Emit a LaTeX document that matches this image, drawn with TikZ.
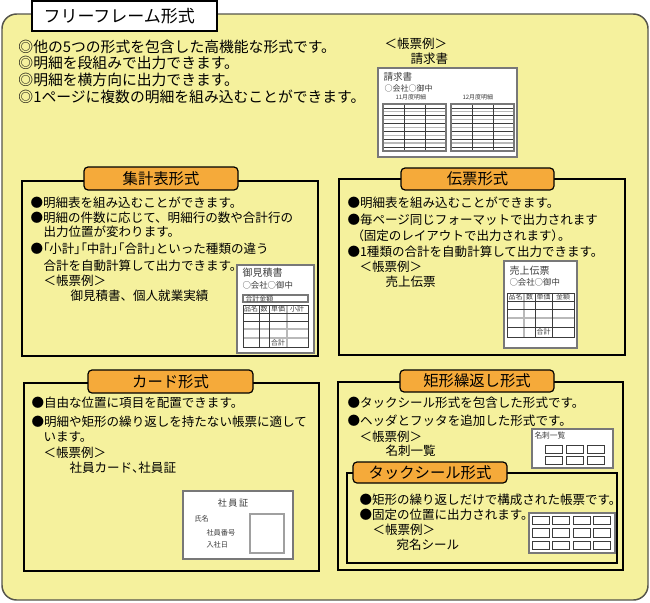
\documentclass[tikz,border=0pt]{standalone}
\usepackage{fontspec}
\setmainfont{Noto Sans CJK JP}
\newfontfamily\paltfont[RawFeature=+palt]{Noto Sans CJK JP}
\definecolor{paleyel}{RGB}{245,241,157}
\definecolor{taborange}{RGB}{245,170,58}
\definecolor{outerline}{RGB}{85,85,75}
\definecolor{formline}{RGB}{120,120,120}
\definecolor{gridgray}{RGB}{185,185,185}
\definecolor{formtext}{RGB}{60,60,60}

\tikzset{every picture/.style={line width=0.75pt},
  titletxt/.style={anchor=west, inner sep=0pt, font=\fontsize{12.75}{14}\selectfont},
  toptxt/.style={anchor=west, inner sep=0pt, font=\fontsize{11.1}{13}\selectfont},
  txt/.style={anchor=west, inner sep=0pt, font=\fontsize{9.4}{11}\selectfont},
  tabtxt/.style={inner sep=0pt, font=\fontsize{11.5}{13}\selectfont},
  secbox/.style={draw=black, line width=1.1pt},
  tabbox/.style={draw=black, fill=taborange, rounded corners=3pt, line width=0.9pt},
  formbox/.style={draw=formline, fill=white, line width=0.9pt},
  ftxt/.style={anchor=west, inner sep=0pt, text=formtext, font=\fontsize{6.3}{7}\selectfont},
  hdtxt/.style={inner sep=0pt, text=formtext, font=\fontsize{5.2}{6}\selectfont},
  thin/.style={draw=formtext, line width=0.45pt},
  graythick/.style={draw=gridgray, line width=1pt},
  cell/.style={draw=formtext, line width=0.5pt}
}

\begin{document}
\begin{tikzpicture}[x=0.75pt,y=0.75pt,yscale=-1,xscale=1]
\useasboundingbox (0,0) rectangle (650,603);

%Rounded Rect: outer frame
\draw [draw=outerline, fill=paleyel, line width=1.1pt, rounded corners=11pt] (2,14) rectangle (648,600);
%Shape: Rectangle (title)
\draw [fill=white, line width=0.9pt] (32,1) rectangle (217,31);
% Text Node
\node [titletxt] (ttl) at (43,16) {フリーフレーム形式};

% Text Node
\node [toptxt] (top1) at (18,47) {◎他の5つの形式を包含した高機能な形式です。};
\node [toptxt] (top2) at (18,63) {◎明細を段組みで出力できます。};
\node [toptxt] (top3) at (18,80) {◎明細を横方向に出力できます。};
\node [toptxt] (top4) at (18,97) {◎1ページに複数の明細を組み込むことができます。};
\node [txt] (topex) at (384,44) {＜帳票例＞};
\node [txt] (topexn) at (410,59) {請求書};

%Shape: Rectangle (請求書)
\draw [formbox] (378,68) rectangle (517,157);
\node [ftxt, font=\fontsize{7.2}{8}\selectfont] (sqT) at (383,77) {請求書};
\node [ftxt, font=\fontsize{6}{7}\selectfont] (sqA) at (384,88) {○会社○御中};
\node [ftxt, font=\fontsize{4.5}{5}\selectfont] (sqM1) at (395,97) {11月度明細};
\node [ftxt, font=\fontsize{4.5}{5}\selectfont] (sqM2) at (462,97) {12月度明細};
\foreach \x in {383,451} {
  \foreach \i in {0,...,6} \draw [graythick] (\x,{104+7.8*\i}) -- ++(63,0);
  \foreach \i in {0,...,5} \draw [thin] (\x,{107.9+7.8*\i}) -- ++(63,0);
  \draw [thin] (\x+21,104) -- ++(0,47) (\x+42,104) -- ++(0,47);
  \draw [formline, line width=0.8pt] (\x,104) rectangle ++(63,47);
}

%Shape: Rectangle (集計表形式)
\draw [secbox] (22,181) rectangle (318,356);
\draw [tabbox] (84,167) rectangle (238,190);
\node [tabtxt] (tabShu) at (161,178.5) {集計表形式};
% Text Node
\node [txt] (shu1) at (30,203) {●明細表を組み込むことができます。};
\node [txt] (shu2) at (30,218) {●明細の件数に応じて、明細行の数や合計行の};
\node [txt] (shu3) at (43,232) {出力位置が変わります。};
\node [txt] (shu4) at (30,249) {●{\paltfont 「}小計{\paltfont 」「}中計{\paltfont 」「}合計{\paltfont 」}といった種類の違う};
\node [txt] (shu5) at (43,266) {合計を自動計算して出力できます。};
\node [txt] (shu6) at (43,281) {＜帳票例＞};
\node [txt] (shu7) at (70,296) {御見積書、個人就業実績};

%Shape: Rectangle (御見積書)
\draw [formbox] (237,265) rectangle (314,353);
\node [ftxt, font=\fontsize{7.5}{8}\selectfont] (mitT) at (242,273) {御見積書};
\node [ftxt] (mitA) at (242,285) {○会社○御中};
\draw [formline, line width=0.8pt] (243,295) rectangle (308,302);
\node [ftxt, font=\fontsize{5.2}{6}\selectfont] (mitG) at (245,298.5) {合計金額};
\draw [graythick] (243,329) -- (308,329) (243,338) -- (308,338) (287,305) -- (287,347);
\draw [thin] (243,305) rectangle (308,347);
\draw [thin] (243,313) -- (308,313) (243,321) -- (308,321) (259,305) -- (259,347) (269,305) -- (269,347);
\node [hdtxt] (mitH1) at (251,309) {品名};
\node [hdtxt] (mitH2) at (264,309) {数};
\node [hdtxt] (mitH3) at (278,309) {単価};
\node [hdtxt] (mitH4) at (297,309) {小計};
\node [hdtxt] (mitS) at (278,342.5) {合計};

%Shape: Rectangle (伝票形式)
\draw [secbox] (339,179) rectangle (625,355);
\draw [tabbox] (401,168) rectangle (554,190);
\node [tabtxt] (tabDen) at (477.5,179) {伝票形式};
% Text Node
\node [txt] (den1) at (347,203) {●明細表を組み込むことができます。};
\node [txt] (den2) at (347,220) {●毎ページ同じフォーマットで出力されます};
\node [txt] (den3) at (357,236) {{\paltfont （}固定のレイアウトで出力されます{\paltfont ）。}};
\node [txt] (den4) at (347,252) {●1種類の合計を自動計算して出力できます。};
\node [txt] (den5) at (359,267) {＜帳票例＞};
\node [txt] (den6) at (385,282) {売上伝票};

%Shape: Rectangle (売上伝票)
\draw [formbox] (504,261) rectangle (577,348);
\node [ftxt, font=\fontsize{7.5}{8}\selectfont] (urT) at (509,271) {売上伝票};
\node [ftxt] (urA) at (509,282) {○会社○御中};
\draw [graythick] (507,318) -- (574,318) (524,293) -- (524,337);
\draw [thin] (507,293) rectangle (574,337);
\draw [thin] (507,301) -- (574,301) (507,309) -- (574,309) (507,327) -- (574,327) (535,293) -- (535,337) (552,293) -- (552,337);
\node [hdtxt] (urH1) at (515.5,297) {品名};
\node [hdtxt] (urH2) at (529.5,297) {数};
\node [hdtxt] (urH3) at (543.5,297) {単価};
\node [hdtxt] (urH4) at (563,297) {金額};
\node [hdtxt] (urS) at (543.5,332) {合計};

%Shape: Rectangle (カード形式)
\draw [secbox] (24,383) rectangle (319,571);
\draw [tabbox] (88,370) rectangle (253,393);
\node [tabtxt] (tabCard) at (170.5,381.5) {カード形式};
% Text Node
\node [txt] (card1) at (31,403) {●自由な位置に項目を配置できます。};
\node [txt] (card2) at (31,422) {●明細や矩形の繰り返しを持たない帳票に適して};
\node [txt] (card3) at (43,437) {います。};
\node [txt] (card4) at (43,453) {＜帳票例＞};
\node [txt] (card5) at (69,468) {社員カード{\paltfont 、}社員証};

%Shape: Rectangle (社員証)
\draw [formbox] (183,491) rectangle (293,559);
\draw [draw=formline!70, line width=1.1pt] (250,514) rectangle (284,553);
\node [hdtxt, font=\fontsize{6.8}{8}\selectfont] (shaT) at (233,503) {社\,員\,証};
\node [ftxt, font=\fontsize{5.4}{6}\selectfont] (sha1) at (194,519) {氏名};
\node [ftxt, font=\fontsize{5.4}{6}\selectfont] (sha2) at (206,533) {社員番号};
\node [ftxt, font=\fontsize{5.4}{6}\selectfont] (sha3) at (206,545) {入社日};

%Shape: Rectangle (矩形繰返し形式)
\draw [secbox] (338,382) rectangle (623,570);
\draw [tabbox] (400,370) rectangle (554,392);
\node [tabtxt] (tabKuri) at (477,381) {矩形繰返し形式};
% Text Node
\node [txt] (kuri1) at (347,403) {●タックシール形式を包含した形式です。};
\node [txt] (kuri2) at (347,421) {●ヘッダとフッタを追加した形式です。};
\node [txt] (kuri3) at (359,437) {＜帳票例＞};
\node [txt] (kuri4) at (385,451) {名刺一覧};

%Shape: Rectangle (名刺一覧)
\draw [formbox] (532,429) rectangle (613,468);
\node [ftxt, font=\fontsize{5.8}{7}\selectfont] (meiT) at (534,436) {名刺一覧};
\foreach \x in {545,566,587}
  \foreach \y in {445,456}
    \draw [cell] (\x,\y) rectangle ++(17,8);

%Shape: Rectangle (タックシール形式)
\draw [secbox] (347,473) rectangle (617,563);
\draw [tabbox] (353,462) rectangle (507,483);
\node [tabtxt] (tabTack) at (430,472.5) {タックシール形式};
% Text Node
\node [txt] (tack1) at (359,500) {●矩形の繰り返しだけで構成された帳票です。};
\node [txt] (tack2) at (359,515) {●固定の位置に出力されます。};
\node [txt] (tack3) at (372,530) {＜帳票例＞};
\node [txt] (tack4) at (396,545) {宛名シール};

%Shape: Rectangle (宛名シール)
\draw [formbox] (529,513) rectangle (615,553);
\foreach \x in {532,552.5,573,593.5}
  \foreach \y in {516,528.5,541}
    \draw [cell] (\x,\y) rectangle ++(17,8.5);

\end{tikzpicture}
\end{document}
